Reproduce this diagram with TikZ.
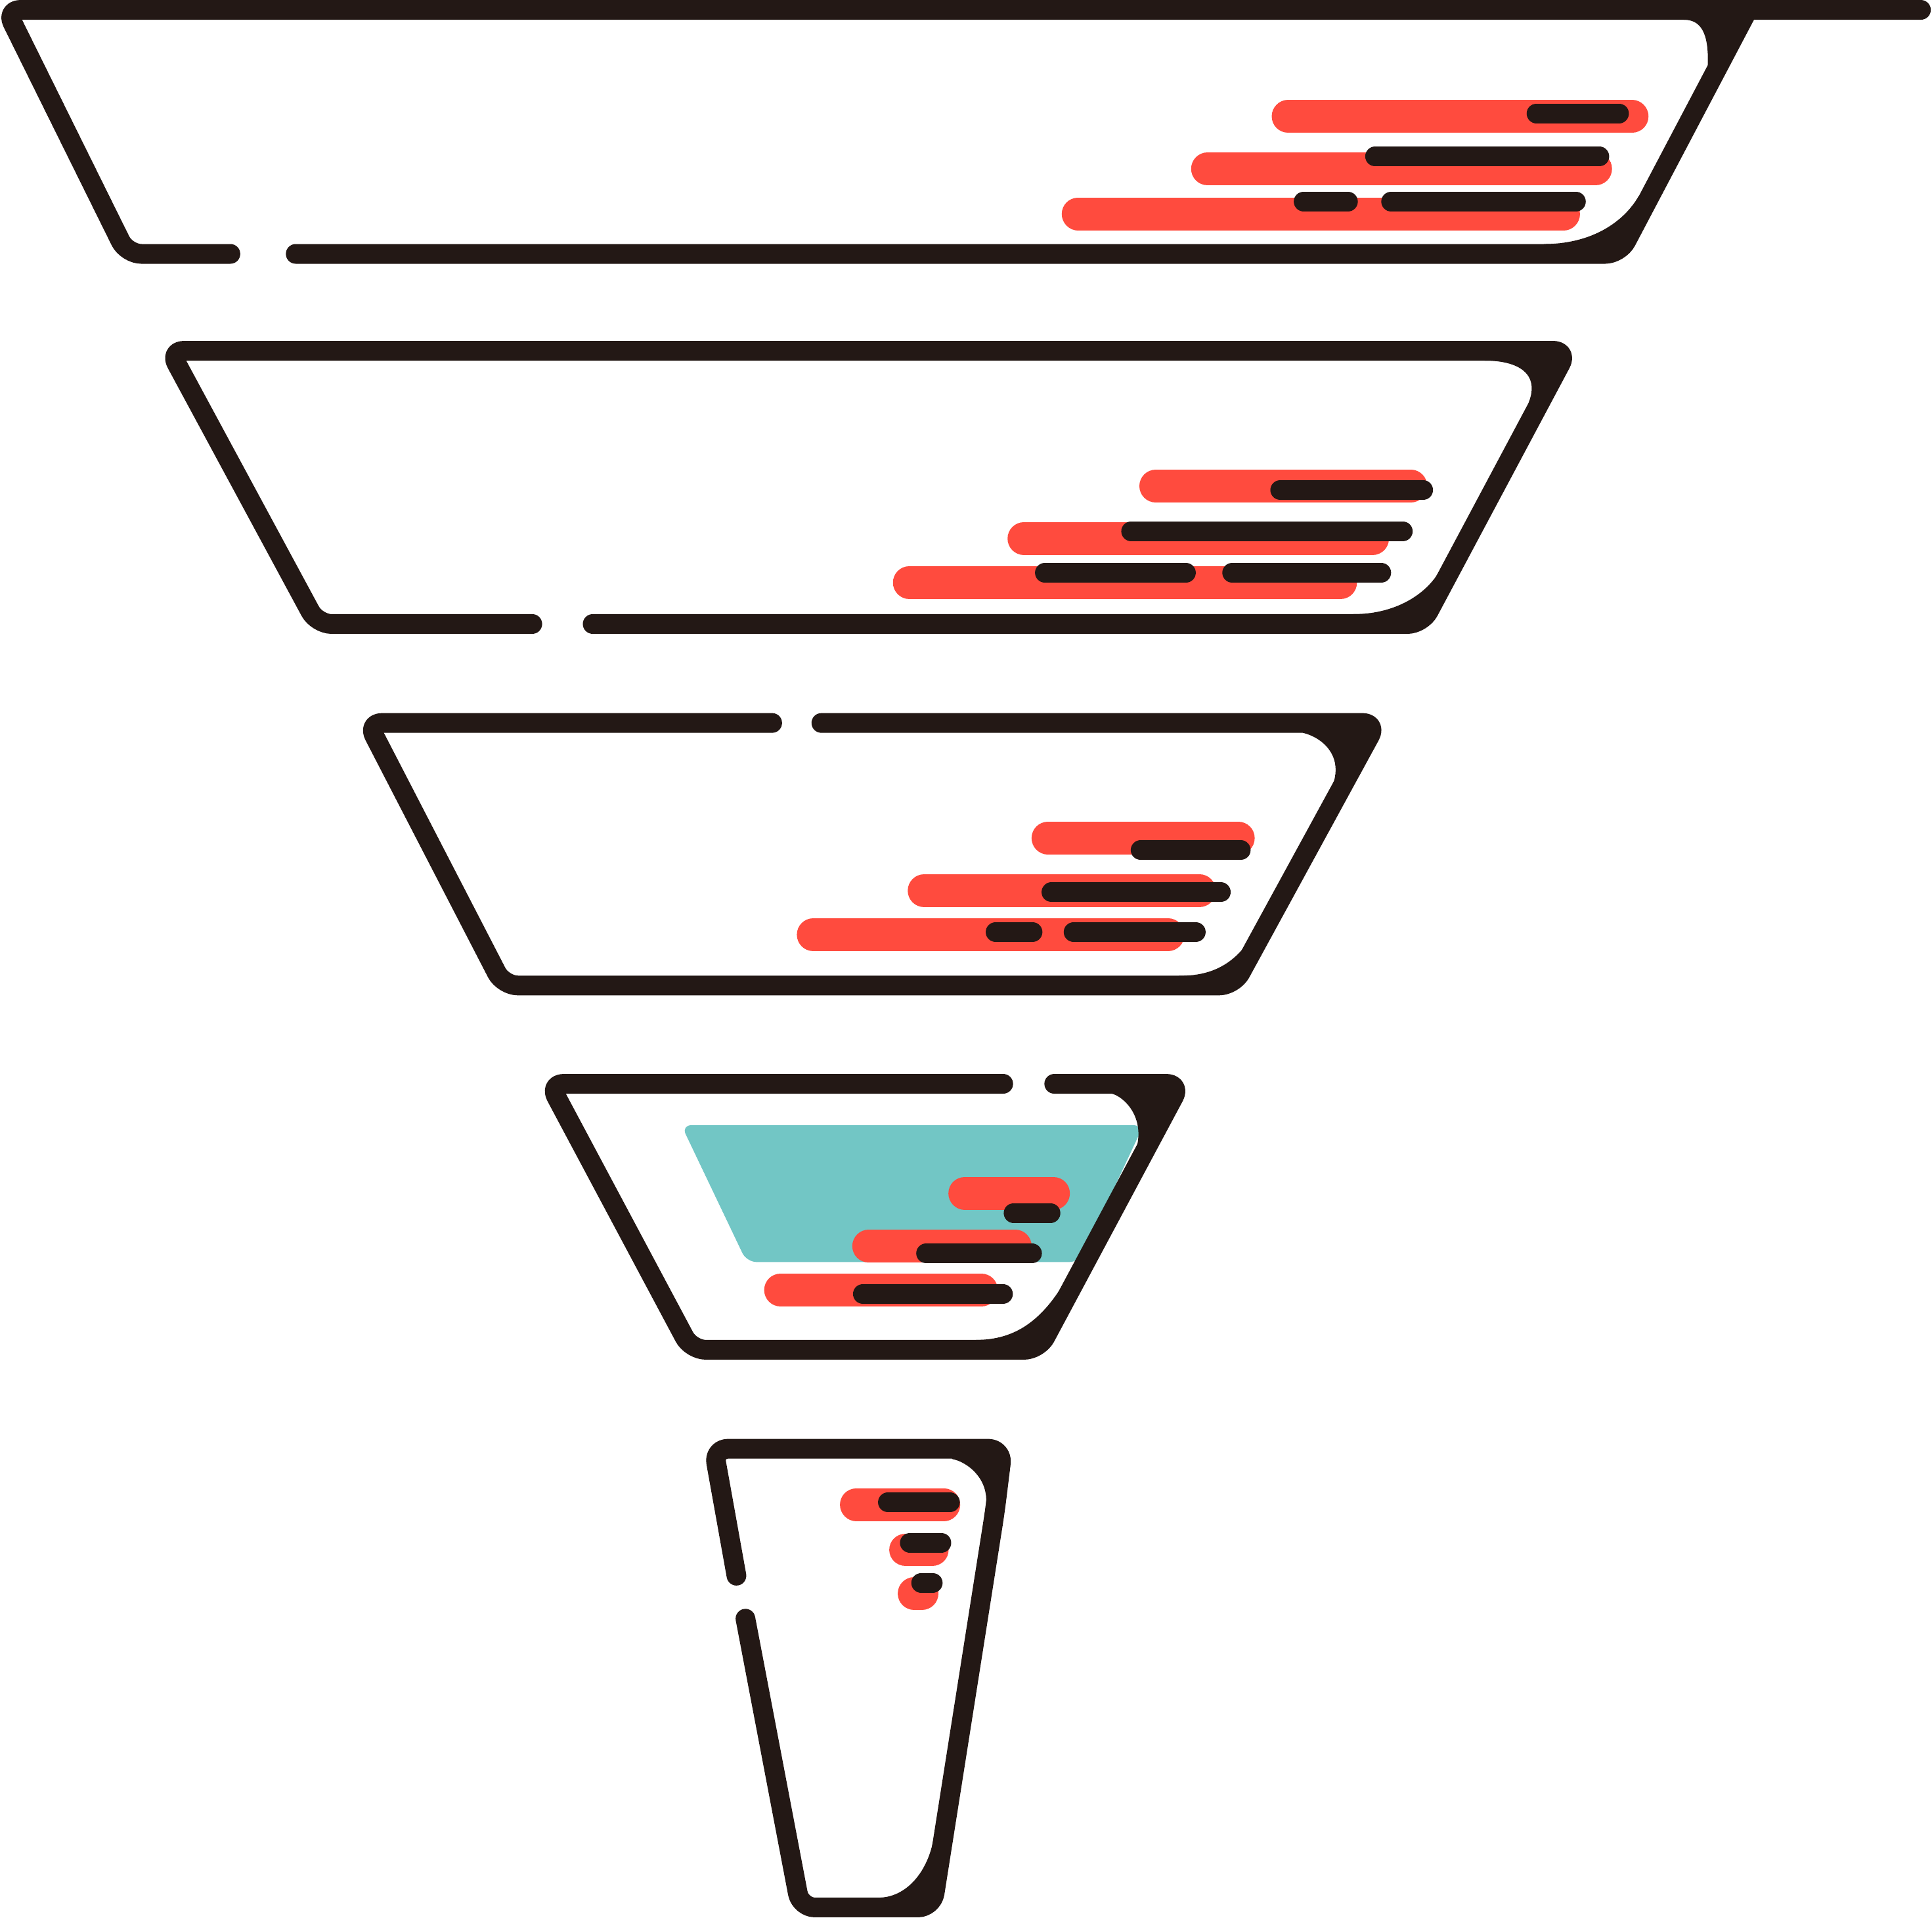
\documentclass[tikz,border=0pt]{standalone}
\definecolor{ink}{HTML}{231815}
\definecolor{barred}{HTML}{FF4B3E}
\definecolor{tealfill}{HTML}{72C6C5}
\begin{document}
\begin{tikzpicture}[x=0.18763mm,y=-0.18763mm,
  outline/.style={draw=ink,line width=3.0mm,line cap=round,line join=round,rounded corners=2.2mm},
  redbar/.style={draw=barred,line width=4.99mm,line cap=round},
  inkbar/.style={draw=ink,line width=3.0mm,line cap=round},
  wedge/.style={fill=ink},
  tealbox/.style={fill=tealfill,rounded corners=1.5mm}]
\fill[white] (0,0) rectangle (1568,1556);
\useasboundingbox (0,0) rectangle (1568,1556);

% ---------- stage 1 ----------
\draw[redbar] (1045.4,94.5) -- (1324.6,94.5);
\draw[redbar] (980,137) -- (1295,137);
\draw[redbar] (875,173.5) -- (1269,173.5);
\draw[inkbar] (1247,92) -- (1314,92);
\draw[inkbar] (1116,127) -- (1298,127);
\draw[inkbar] (1058,163.5) -- (1094,163.5);
\draw[inkbar] (1129,163.5) -- (1279,163.5);
\draw[outline] (187,206) -- (103,206) -- (5,8) -- (1559,8);
\draw[outline] (240,206) -- (1314.4,206) -- (1418.7,8);
\fill[wedge] (1366.5,16) .. controls (1380,16) and (1387,26) .. (1386,53) -- (1395,53) -- (1418.7,8) -- (1366.5,8) -- cycle;
\fill[wedge] (1330,159) .. controls (1318,180) and (1292,198) .. (1253,198) -- (1253,206) -- (1314.4,206) -- (1339,159) -- cycle;

% ---------- stage 2 ----------
\draw[redbar] (938,394.4) -- (1145,394.4);
\draw[redbar] (831,437) -- (1114,437);
\draw[redbar] (738,472.7) -- (1088,472.7);
\draw[inkbar] (1039,397.6) -- (1155,397.6);
\draw[inkbar] (918,431) -- (1138.5,431);
\draw[inkbar] (848,464.7) -- (962.5,464.7);
\draw[inkbar] (1000,464.7) -- (1121,464.7);
\draw[outline] (481,506.3) -- (1154,506.3) -- (1272.2,284.6) -- (137.7,284.6) -- (257.4,506.3) -- (432,506.3);
\fill[wedge] (1205,292.6) .. controls (1232,292.6) and (1250,303) .. (1240.6,326.8) -- (1249.7,326.8) -- (1272.2,284.6) -- (1205,284.6) -- cycle;
\fill[wedge] (1169.5,461) .. controls (1160,480) and (1135,498.3) .. (1098.5,498.3) -- (1098.5,506.3) -- (1154,506.3) -- (1178.2,461) -- cycle;

% ---------- stage 3 ----------
\draw[redbar] (850.5,680) -- (1005,680);
\draw[redbar] (750,722.7) -- (973.5,722.7);
\draw[redbar] (660,758.4) -- (948,758.4);
\draw[inkbar] (925.7,689.8) -- (1007,689.8);
\draw[inkbar] (853.3,724) -- (990.8,724);
\draw[inkbar] (808,756.3) -- (838,756.3);
\draw[inkbar] (871.3,756.3) -- (970.5,756.3);
\draw[outline] (666.6,586.6) -- (1117.5,586.6) -- (1001.2,799.6) -- (408.5,799.6) -- (298.4,586.6) -- (626.7,586.6);
\fill[wedge] (1057.4,594.6) .. controls (1072,598) and (1090,612) .. (1082,636) -- (1090.5,636) -- (1117.5,586.6) -- (1057.4,586.6) -- cycle;
\fill[wedge] (1015.6,760.4) .. controls (1000,785) and (980,791.8) .. (956.7,791.8) -- (956.7,799.6) -- (1001.2,799.6) -- (1022.8,760.4) -- cycle;

% ---------- stage 4 ----------
\fill[tealbox] (553,913) -- (928,913) -- (876,1024) -- (606,1024) -- cycle;
\draw[redbar] (783,968.2) -- (855,968.2);
\draw[redbar] (705,1011.2) -- (824,1011.2);
\draw[redbar] (633.5,1046.7) -- (796.5,1046.7);
\draw[inkbar] (822.6,984.2) -- (852.6,984.2);
\draw[inkbar] (751.6,1017) -- (837.6,1017);
\draw[inkbar] (700.3,1049.9) -- (814,1049.9);
\draw[outline] (855.6,879.4) -- (958.3,879.4) -- (842.9,1095.2) -- (561,1095.2) -- (445.9,879.4) -- (814.2,879.4);
\fill[wedge] (902.5,887.4) .. controls (912,890) and (928,905) .. (923,929) -- (931,929) -- (958.3,879.4) -- (902.5,879.4) -- cycle;
\fill[wedge] (861.3,1044.6) .. controls (845,1070) and (825,1087.2) .. (792.2,1087.2) -- (792.2,1095.2) -- (842.9,1095.2) -- (869.9,1044.6) -- cycle;

% ---------- stage 5 ----------
\draw[redbar] (695,1220.8) -- (766,1220.8);
\draw[redbar] (735,1257.5) -- (756.6,1257.5);
\draw[redbar] (741.9,1293) -- (748.3,1293);
\draw[inkbar] (720.6,1219) -- (771,1219);
\draw[inkbar] (738.4,1251.8) -- (764,1251.8);
\draw[inkbar] (747.6,1284.3) -- (757,1284.3);
\draw[outline] (597.7,1278.5) -- (579.2,1175.5) -- (813.7,1175.5) -- (807.5,1226) -- (756.7,1547.7) -- (649.7,1547.7) -- (605,1313.4);
\fill[wedge] (772.6,1183.8) .. controls (785,1186) and (803,1200) .. (800.1,1221.8) -- (808,1221.8) -- (813.7,1175.5) -- (772.6,1175.5) -- cycle;
\fill[wedge] (757.3,1494) .. controls (752,1520) and (735,1539.8) .. (712.5,1539.8) -- (712.5,1547.7) -- (756.7,1547.7) -- (765.1,1494) -- cycle;
\end{tikzpicture}
\end{document}
